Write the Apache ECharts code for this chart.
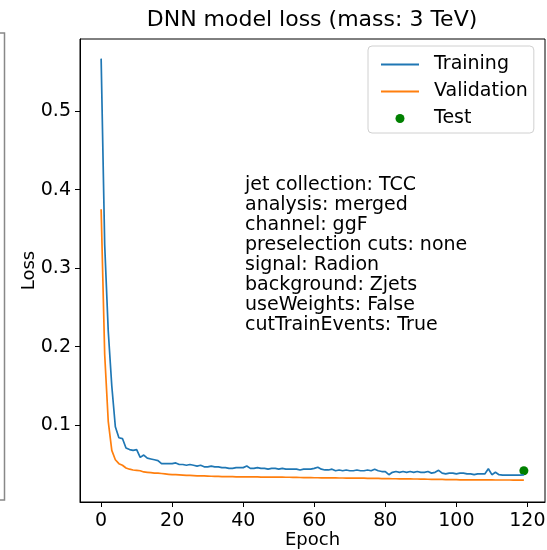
<!DOCTYPE html>
<html>
<head>
<meta charset="utf-8">
<script src="https://cdn.jsdelivr.net/npm/echarts@6/dist/echarts.min.js"></script>
<style>html,body{margin:0;padding:0;background:#fff;}#c{width:547px;height:550px;}</style>
</head>
<body>
<div id="c"></div>
<script>
const titleText = 'DNN model loss (mass: 3 TeV)';
const xTicks = [0, 20, 40, 60, 80, 100, 120];
const yTicks = [0.1, 0.2, 0.3, 0.4, 0.5];
const infoLines = ['jet collection: TCC','analysis: merged','channel: ggF','preselection cuts: none','signal: Radion','background: Zjets','useWeights: False','cutTrainEvents: True'];
const training = [
0.567, 0.330, 0.220, 0.150, 0.098, 0.084, 0.083, 0.071, 0.069, 0.068,
0.069, 0.059, 0.062, 0.058, 0.057, 0.056, 0.055, 0.051, 0.051, 0.051,
0.051, 0.052, 0.050, 0.050, 0.049, 0.050, 0.049, 0.048, 0.049, 0.047,
0.047, 0.048, 0.047, 0.047, 0.046, 0.046, 0.045, 0.045, 0.046, 0.046,
0.046, 0.048, 0.045, 0.045, 0.046, 0.045, 0.045, 0.044, 0.045, 0.045,
0.044, 0.045, 0.044, 0.044, 0.044, 0.044, 0.043, 0.044, 0.044, 0.044,
0.045, 0.0465, 0.044, 0.043, 0.043, 0.044, 0.042, 0.043, 0.042, 0.043,
0.042, 0.042, 0.043, 0.042, 0.042, 0.043, 0.042, 0.044, 0.042, 0.041,
0.041, 0.037, 0.040, 0.041, 0.040, 0.041, 0.040, 0.041, 0.040, 0.041,
0.040, 0.040, 0.041, 0.039, 0.040, 0.0425, 0.039, 0.038, 0.039, 0.039,
0.038, 0.039, 0.039, 0.038, 0.038, 0.037, 0.038, 0.038, 0.038, 0.0445,
0.037, 0.040, 0.037, 0.0365, 0.0365, 0.0365, 0.0365, 0.0365, 0.0365, 0.0368
];
const validation = [
0.375, 0.190, 0.105, 0.068, 0.056, 0.051, 0.049, 0.0455, 0.044, 0.043,
0.0425, 0.042, 0.0405, 0.040, 0.0395, 0.039, 0.039, 0.0385, 0.038, 0.0375,
0.037, 0.037, 0.0368, 0.0365, 0.036, 0.036, 0.0358, 0.0356, 0.0355, 0.0354,
0.0352, 0.035, 0.0349, 0.0348, 0.0346, 0.0345, 0.0344, 0.0344, 0.0343, 0.0343,
0.0343, 0.0342, 0.0342, 0.0341, 0.0341, 0.034, 0.034, 0.034, 0.0339, 0.0339,
0.0338, 0.0338, 0.0337, 0.0337, 0.0336, 0.0335, 0.0334, 0.0333, 0.0332, 0.0332,
0.0331, 0.0331, 0.033, 0.033, 0.033, 0.0329, 0.0329, 0.0328, 0.0328, 0.0327,
0.0327, 0.0326, 0.0326, 0.0325, 0.0325, 0.0324, 0.0324, 0.0323, 0.0322, 0.0321,
0.032, 0.0319, 0.0318, 0.0318, 0.0317, 0.0317, 0.0316, 0.0316, 0.0315, 0.0315,
0.0314, 0.0313, 0.0312, 0.0311, 0.031, 0.031, 0.0309, 0.0308, 0.0307, 0.0306,
0.0306, 0.0305, 0.0305, 0.0305, 0.0304, 0.0304, 0.0304, 0.0303, 0.0303, 0.0303,
0.0303, 0.0302, 0.0302, 0.0302, 0.0302, 0.0302, 0.0301, 0.0301, 0.0301, 0.0301
];
const testEpoch = [119];
const testLoss = [0.042];

const epochs = training.map((_, i) => i);
const FONT = 'DejaVu Sans';
const chart = echarts.init(document.getElementById('c'), null, {renderer: 'canvas'});
chart.setOption({
  animation: false,
  backgroundColor: '#fff',
  textStyle: {fontFamily: FONT},
  grid: {left: 80, top: 39, width: 465, height: 463, show: true, borderColor: '#000', borderWidth: 1, backgroundColor: 'transparent', outerBoundsMode: 'none', containLabel: false},
  xAxis: {
    type: 'value', min: -5.95, max: 124.95,
    axisLine: {show: true, onZero: false, lineStyle: {color: '#000', width: 1}},
    axisTick: {show: true, customValues: xTicks, length: 5, lineStyle: {color: '#000'}},
    axisLabel: {customValues: xTicks, fontSize: 19, color: '#000', margin: 10, fontFamily: FONT},
    splitLine: {show: false},
    name: 'Epoch', nameLocation: 'middle', nameGap: 29, nameMoveOverlap: false,
    nameTextStyle: {fontSize: 18, color: '#000', fontFamily: FONT}
  },
  yAxis: {
    type: 'value', min: 0.0022, max: 0.592,
    axisLine: {show: true, onZero: false, lineStyle: {color: '#000', width: 1}},
    axisTick: {show: true, customValues: yTicks, length: 5, lineStyle: {color: '#000'}},
    axisLabel: {customValues: yTicks, fontSize: 19, color: '#000', margin: 9, fontFamily: FONT, formatter: v => v.toFixed(1)},
    splitLine: {show: false},
    name: 'Loss', nameLocation: 'middle', nameGap: 42, nameRotate: 90, nameMoveOverlap: false,
    nameTextStyle: {fontSize: 18, color: '#000', fontFamily: FONT}
  },
  legend: {
    left: 368, top: 46, orient: 'vertical',
    itemWidth: 38, itemHeight: 9, itemGap: 0,
    padding: [5, 6, 1, 12],
    borderColor: '#d0d0d0', borderWidth: 1, borderRadius: 4,
    backgroundColor: 'rgba(255,255,255,0.8)',
    itemStyle: {opacity: 0},
    textStyle: {fontSize: 19, color: '#000', fontFamily: FONT, lineHeight: 27, padding: [0, 0, 0, 10]},
    data: [
      {name: 'Training'},
      {name: 'Validation'},
      {name: 'Test', icon: 'circle', itemStyle: {opacity: 1, color: '#008000'}}
    ]
  },
  graphic: [
    {type: 'text', x: 312, y: 9, style: {text: titleText, fontSize: 22, fill: '#000', fontFamily: FONT, align: 'center', textAlign: 'center'}},
    {type: 'text', left: 245, top: 175, style: {text: infoLines.join('\n'), fontSize: 19, lineHeight: 20, fill: '#000', fontFamily: FONT}},
    {type: 'polyline', shape: {points: [[0, 33], [4.5, 33], [4.5, 500], [0, 500]]}, style: {stroke: '#888', lineWidth: 1.5, fill: null}}
  ],
  series: [
    {name: 'Training', type: 'line', data: epochs.map((e, i) => [e, training[i]]), showSymbol: false, symbol: 'none', lineStyle: {color: '#1f77b4', width: 1.7}, itemStyle: {color: '#1f77b4'}},
    {name: 'Validation', type: 'line', data: epochs.map((e, i) => [e, validation[i]]), showSymbol: false, symbol: 'none', lineStyle: {color: '#ff7f0e', width: 1.7}, itemStyle: {color: '#ff7f0e'}},
    {name: 'Test', type: 'scatter', data: testEpoch.map((e, i) => [e, testLoss[i]]), symbolSize: 9, itemStyle: {color: '#008000', opacity: 1}}
  ]
});
</script>
</body>
</html>
